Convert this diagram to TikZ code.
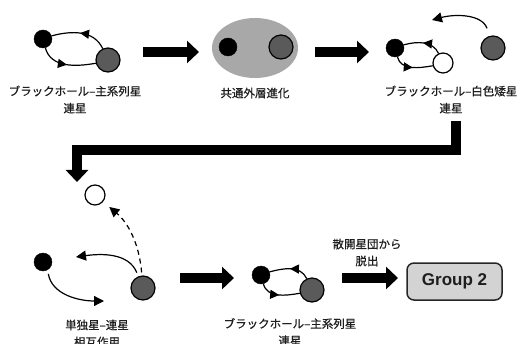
\documentclass[tikz,border=0pt]{standalone}
\usepackage{fontspec}
\setmainfont{Liberation Sans}
\newfontfamily\jpfont{Noto Sans CJK JP}[UprightFeatures={FakeBold=0.5}]
\usetikzlibrary{arrows.meta,decorations.markings,shapes.geometric}
\definecolor{msgray}{HTML}{5A5A5A}
\definecolor{cegray}{HTML}{A8A8A8}
\definecolor{boxgray}{HTML}{D3D3D3}
\definecolor{txt}{HTML}{1E1E1E}
\begin{document}
\begin{tikzpicture}[x=1pt,y=1pt,
  bh/.style={circle,fill=black,draw=black,minimum size=18pt,inner sep=0pt},
  ms/.style={circle,fill=msgray,draw=black,line width=1.2pt,minimum size=24pt,inner sep=0pt},
  wd/.style={circle,fill=white,draw=black,line width=1.2pt,minimum size=20pt,inner sep=0pt},
  lbl/.style={font=\jpfont\fontsize{11.5}{17}\selectfont,align=center,text=txt,inner sep=0pt},
  bigarrow/.style={line width=10.5pt,-{Triangle[width=22pt,length=12pt]}},
  orb/.style={line width=1.2pt},
  tipa/.style={-{Triangle[width=10pt,length=10pt]}},
  fwd/.style={postaction={decorate},decoration={markings,mark=at position #1 with {\arrow{Triangle[width=9pt,length=9pt]}}}},
  bwd/.style={postaction={decorate},decoration={markings,mark=at position #1 with {\arrowreversed{Triangle[width=9pt,length=9pt]}}}}
]
\useasboundingbox (0,0) rectangle (519,343);

% Panel 1
\node[bh] (b1) at (43,304) {};
\node[ms] (g1) at (108,283) {};
\draw[orb,bwd=0.5] (b1.20) to[out=15,in=115] (g1.115);
\draw[orb,fwd=0.5] (b1.-75) to[out=-75,in=190] (g1.195);
\node[lbl] (l1) at (75,243.5) {ブラックホール–主系列星\\連星};

% arrow 1
\coordinate (a1s) at (143,291);
\coordinate (a1e) at (199,291);
\draw[bigarrow] (a1s) -- (a1e);

% Panel 2
\node[ellipse,fill=cegray,minimum width=86pt,minimum height=60pt,inner sep=0pt] (ce) at (255,295) {};
\node[bh] (b2) at (228,296) {};
\node[ms] (g2) at (281,296) {};
\node[lbl] (l2) at (255,250) {共通外層進化};

% arrow 2
\coordinate (a2s) at (315,291);
\coordinate (a2e) at (369,291);
\draw[bigarrow] (a2s) -- (a2e);

% Panel 3
\node[bh] (b3) at (395,295) {};
\node[wd] (w3) at (443,280) {};
\node[ms] (g3) at (493,295) {};
\draw[orb,bwd=0.5] (b3.20) to[out=15,in=115] (w3.115);
\draw[orb,fwd=0.5] (b3.-75) to[out=-75,in=190] (w3.195);
\coordinate (k3) at (432,323);
\draw[orb,tipa,shorten <=8pt] (g3.105) to[out=110,in=15] (k3);
\node[lbl] (l3) at (451,243.5) {ブラックホール–白色矮星\\連星};

% L arrow
\coordinate (La) at (456,222);
\coordinate (Lb) at (456,193);
\coordinate (Lc) at (77,193);
\coordinate (Ld) at (77,161);
\draw[bigarrow] (La) -- (Lb) -- (Lc) -- (Ld);

% Panel 4
\node[wd] (w4) at (95,148) {};
\node[bh] (b4) at (43,81) {};
\node[ms] (g4) at (143,55) {};
\draw[orb,dashed,dash pattern=on 5pt off 4pt,tipa,shorten <=3pt,shorten >=8pt] (g4.95) to[out=95,in=-40] (w4);
\coordinate (k4a) at (76,86);
\draw[orb,tipa,shorten <=4pt] (g4.112) to[out=112,in=8] (k4a);
\coordinate (k4b) at (104,42);
\draw[orb,tipa,shorten <=4pt] (b4.-60) to[out=-80,in=180] (k4b);
\node[lbl] (l4) at (97,9.5) {単独星–連星\\相互作用};

% arrow 3
\coordinate (a3s) at (180,65);
\coordinate (a3e) at (234,65);
\draw[bigarrow] (a3s) -- (a3e);

% Panel 5
\node[bh] (b5) at (261,68) {};
\node[ms] (g5) at (312,53) {};
\draw[orb,bwd=0.5] (b5.20) to[out=15,in=115] (g5.115);
\draw[orb,fwd=0.5] (b5.-75) to[out=-75,in=190] (g5.195);
\node[lbl] (l5) at (290,11) {ブラックホール–主系列星\\連星};

% escape text and arrow 4
\node[lbl] (l6) at (367,90.5) {散開星団から\\脱出};
\coordinate (a4s) at (342,65);
\coordinate (a4e) at (398,65);
\draw[bigarrow] (a4s) -- (a4e);

% Group 2 box
\node[draw=black!85,line width=1.5pt,fill=boxgray,rounded corners=7pt,minimum width=95pt,minimum height=37pt,inner sep=0pt,font=\fontsize{17}{20}\selectfont\bfseries,text=txt] (grp) at (454.5,61.5) {Group 2};
\end{tikzpicture}
\end{document}
